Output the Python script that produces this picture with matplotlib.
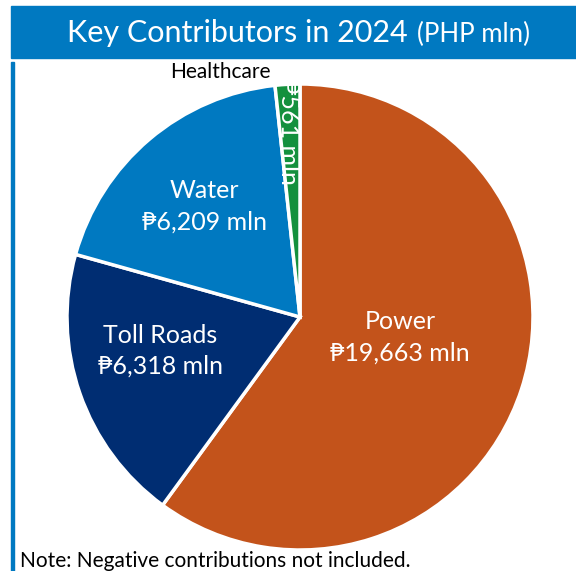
import numpy as np
import matplotlib
matplotlib.use("Agg")
import matplotlib.pyplot as plt
from matplotlib.patches import Rectangle

plt.rcParams['font.family'] = ['Lato', 'DejaVu Sans']

# data
segments = ["Power", "Toll Roads", "Water", "Healthcare"]
values = [19663, 6318, 6209, 561]
colors = ["#C3531B", "#002D72", "#0079C1", "#14903D"]
# label positions inside the pie (pie radius = 1)
label_pos = [(0.43, -0.085), (-0.60, -0.145), (-0.41, 0.475), (-0.05, 0.79)]

fig = plt.figure(figsize=(5.76, 5.71), dpi=100)

# title bar
fig.patches.append(Rectangle((11/576, 1 - 58/571), 1, 52/571, transform=fig.transFigure,
                             color="#0079C1", zorder=0))
fig.text(408/576, 1 - 33/571, "Key Contributors in 2024", color="white", fontsize=22,
         ha="right", va="center")
fig.text(417/576, 1 - 34/571, "(PHP mln)", color="white", fontsize=18.5,
         ha="left", va="center")
# left rule
fig.patches.append(Rectangle((11/576, 0), 3/576, 1 - 62/571, transform=fig.transFigure,
                             color="#0079C1", zorder=0))

ax = fig.add_axes([67/576, 21/571, 466/576, 466/571])
wedges, _ = ax.pie(values, colors=colors, startangle=90, counterclock=False,
                   wedgeprops=dict(edgecolor="white", linewidth=2.5))
ax.set_xlim(-1, 1)
ax.set_ylim(-1, 1)

for name, v, (x, y) in zip(segments, values, label_pos):
    if name == "Healthcare":
        ax.text(x, y, "₱%s mln" % format(v, ","), color="white", fontsize=18,
                rotation=-90, ha="center", va="center")
        ax.text(-0.34, 1.05, name, color="black", fontsize=15, ha="center", va="center")
    else:
        ax.text(x, y, "%s\n₱%s mln" % (name, format(v, ",")), color="white",
                fontsize=18, ha="center", va="center", linespacing=1.45)

fig.text(20/576, 0, "Note: Negative contributions not included.", fontsize=15,
         ha="left", va="bottom")

fig.savefig("out.png", dpi=100)
